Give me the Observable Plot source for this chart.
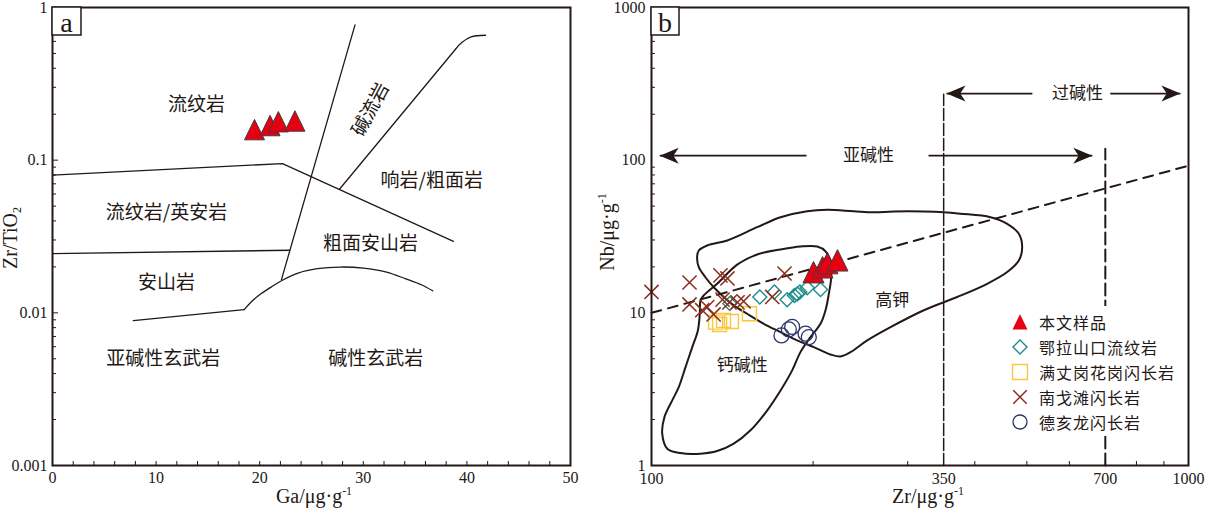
<!DOCTYPE html>
<html><head><meta charset="utf-8">
<script src="https://cdn.jsdelivr.net/npm/d3@7"></script>
<script src="https://cdn.jsdelivr.net/npm/@observablehq/plot@0.6"></script>
<style>
body{margin:0;background:#fff;}
#wrap{display:flex;width:1209px;height:514px;overflow:hidden;}
#wrap svg{display:block;}
</style></head><body><div id="wrap"></div>
<script>
const INK = "#231815";
const RED = "#e60012";
const SERIF = "'Liberation Serif','Times New Roman','DejaVu Serif',serif";
const CJK = "'Noto Sans CJK SC','Noto Sans',sans-serif";

// ---------- Panel a data (Ga vs Zr/TiO2) ----------
const aUpper = [[0,0.0797],[22.2,0.095],[38.7,0.0294]];
const aMiddle = [[0,0.0244],[22.9,0.0257]];
const aSteep = [[22.1,0.0165],[29.2,0.77]];
const aLowerStraight = [[7.8,0.0089],[18.5,0.0105]];
const aLowerArc = [[18.5,0.0105],[19.06,0.01157],[19.99,0.01313],[21.1,0.01474],[22.1,0.01622],[23.7,0.0182],[25.56,0.01945],[27.79,0.01995],[30.0,0.01964],[32.24,0.01849],[34.1,0.0167],[35.6,0.01527],[36.7,0.01394]];
const aRightStraight = [[27.7,0.0645],[38.9,0.533]];
const aRightArc = [[38.9,0.533],[39.5,0.589],[40.4,0.642],[41.8,0.658]];
const aSamples = [[19.5,0.158],[21.0,0.168],[21.8,0.178],[23.4,0.180]];
const aFieldNames = ["流纹岩","碱流岩","响岩/粗面岩","流纹岩/英安岩","粗面安山岩","安山岩","亚碱性玄武岩","碱性玄武岩"];
const aFieldX = [13.9,30.7,36.6,11.0,30.7,11.0,10.7,31.2];
const aFieldY = [0.23,0.215,0.0728,0.0451,0.0282,0.0157,0.00496,0.00496];
const aFieldRot = [0,-62,0,0,0,0,0,0];
const aXLabels = [0,10,20,30,40,50];
const aXMinor = [0,2,4,6,8,10,12,14,16,18,20,22,24,26,28,30,32,34,36,38,40,42,44,46,48,50];
const aYLabels = [0.001,0.01,0.1,1];
const aYMinor = [0.002,0.003,0.004,0.005,0.006,0.007,0.008,0.009,0.02,0.03,0.04,0.05,0.06,0.07,0.08,0.09,0.2,0.3,0.4,0.5,0.6,0.7,0.8,0.9];

// ---------- Panel b data (Zr vs Nb) ----------
const highK = [[122.5,25.6],[127.0,27.6],[138.4,29.8],[157.3,36.4],[173.9,42.3],[194.9,46.3],[212.4,47.3],[238.1,46.3],[259.4,45.6],[282.6,46.1],[321.5,46.1],[350.3,45.6],[376.2,44.6],[427.8,42.3],[459.6,38.3],[483.1,33.0],[490.1,26.9],[483.1,22.0],[459.6,18.5],[421.8,15.5],[370.9,12.7],[321.5,10.4],[278.7,8.06],[252.2,6.60],[234.8,5.53],[224.9,5.18],[215.4,5.34],[200.6,5.96],[186.7,6.60],[173.9,7.47],[161.9,8.48],[150.7,9.86],[142.3,11.2],[136.3,12.7],[130.6,14.7],[126.0,17.1],[122.5,19.9],[121.6,23.2]];
const calcAlk = [[144.4,20.7],[157.3,24.1],[173.9,26.0],[189.4,27.2],[203.5,27.2],[210.9,25.3],[215.4,21.0],[216.1,17.1],[213.9,13.3],[210.9,10.4],[206.4,8.48],[197.7,6.93],[189.4,5.53],[182.8,4.20],[173.9,3.10],[164.3,2.30],[152.9,1.70],[142.3,1.39],[132.5,1.243],[123.4,1.195],[113.2,1.206],[107.0,1.288],[104.7,1.616],[105.7,2.075],[109.3,2.67],[112.4,3.26],[115.7,4.41],[119.1,5.96],[122.0,7.67],[123.0,9.86],[123.4,12.06],[125.1,13.0],[132.5,15.5]];
const alkLine = [[100,10],[1000,92]];
const v350 = [[350,1],[350,270]];
const v700 = [[700,1],[700,119]];
const arrowShafts = [
  {x1:103.6,x2:194.4,y:107},{x1:328,x2:662,y:107},
  {x1:354.3,x2:512,y:273},{x1:715,x2:966,y:273}
];
const arrowTips = [{x:103.6,y:107,r:180},{x:662,y:107,r:0},{x:354.3,y:273,r:180},{x:966,y:273,r:0}];
const bSamples = [[200.3,18.4],[208.2,19.8],[212.7,21.1],[222.0,22.0]];
const elashankou = [[139.9,11.5],[159.1,12.7],[169.4,13.7],[178.9,12.2],[184.6,13.0],[186.8,13.3],[188.9,13.7],[195.0,14.6],[206.4,14.2]];
const manzhang = [[131.6,8.69],[133.9,8.39],[136.2,8.92],[140.9,8.78],[152.2,9.86]];
const nangetan = [[100,13.7],[117.7,15.8],[117.7,11.35],[134.4,17.6],[138.5,16.8],[135.6,12.2],[139.7,11.7],[144.6,11.7],[148.4,11.9],[127.0,10.9],[124.3,10.4],[130.5,9.76],[176.9,18.1],[167.8,12.7]];
const dehailong = [[174.6,7.11],[180.2,7.79],[182.8,8.08],[193.6,7.30],[196.3,6.93]];
const bFieldNames = ["高钾","钙碱性","亚碱性","过碱性"];
const bFieldX = [280.7,147.5,253.5,621];
const bFieldY = [12.06,4.52,107,273];
const bXLabels = [100,350,700,1000];
const bXMinor = [200,300,400,500,600,700,800,900];
const bYLabels = [1,10,100,1000];
const bYMinor = [2,3,4,5,6,7,8,9,20,30,40,50,60,70,80,90,200,300,400,500,600,700,800,900];
const legendNames = ["本文样品","鄂拉山口流纹岩","满丈岗花岗闪长岩","南戈滩闪长岩","德亥龙闪长岩"];

// ---------- symbols ----------
const tallTri = {draw(ctx, size){const s=Math.sqrt(size);ctx.moveTo(0,-0.52*s);ctx.lineTo(0.5*s,0.5*s);ctx.lineTo(-0.5*s,0.5*s);ctx.closePath();}};
const arrowHead = {draw(ctx, size){const L=Math.sqrt(size);ctx.moveTo(0,0);ctx.lineTo(-L,-0.42*L);ctx.lineTo(-0.72*L,0);ctx.lineTo(-L,0.42*L);ctx.closePath();}};
const rFor = s => Math.sqrt(s*s/Math.PI);

const fx = d=>d[0], fy = d=>d[1];
const H = 514, MT = 7, MB = 49;

function table(names, xs, ys, rs){return names.map((t,i)=>({t, x:xs[i], y:ys[i], r: rs? rs[i]:0}));}

// ---------- Panel a ----------
const plotA = Plot.plot({
  width: 600, height: H, marginLeft: 52, marginRight: 30, marginTop: MT, marginBottom: MB,
  x: {domain: [0,50], label: null},
  y: {type: "log", domain: [0.001,1], label: null},
  style: {fontFamily: SERIF, fontSize: "16px", color: INK, background: "white", overflow: "visible"},
  marks: [
    Plot.line(aUpper, {x: fx, y: fy, stroke: INK, strokeWidth: 1.3}),
    Plot.line(aMiddle, {x: fx, y: fy, stroke: INK, strokeWidth: 1.3}),
    Plot.line(aSteep, {x: fx, y: fy, stroke: INK, strokeWidth: 1.3}),
    Plot.line(aLowerStraight, {x: fx, y: fy, stroke: INK, strokeWidth: 1.3}),
    Plot.line(aLowerArc, {x: fx, y: fy, stroke: INK, strokeWidth: 1.3, curve: "catmull-rom"}),
    Plot.line(aRightStraight, {x: fx, y: fy, stroke: INK, strokeWidth: 1.3}),
    Plot.line(aRightArc, {x: fx, y: fy, stroke: INK, strokeWidth: 1.3, curve: "catmull-rom"}),
    Plot.text(table(aFieldNames, aFieldX, aFieldY, aFieldRot), {x: "x", y: "y", text: "t", rotate: "r", fontFamily: CJK, fontSize: 19, fill: INK, letterSpacing: "1px"}),
    Plot.dot(aSamples, {x: fx, y: fy, symbol: tallTri, r: rFor(20), fill: RED, stroke: "#3d3d3d", strokeWidth: 1}),
    Plot.tickX(aXMinor, {x: d=>d, insetTop: 458-4, stroke: INK, strokeWidth: 1}),
    Plot.tickY(aYMinor, {y: d=>d, insetRight: 518-4, stroke: INK, strokeWidth: 1}),
    Plot.tickY(aYLabels, {y: d=>d, insetRight: 518-6, stroke: INK, strokeWidth: 1}),
    Plot.axisX({ticks: aXLabels, tickSize: 0, tickPadding: 6, tickFormat: d=>String(d), label: null}),
    Plot.axisY({ticks: aYLabels, tickSize: 0, tickPadding: 5, tickFormat: d=>String(d), label: null}),
    Plot.frame({stroke: INK, strokeWidth: 2})
  ]
});

// ---------- Panel b ----------
const plotB = Plot.plot({
  width: 609, height: H, marginLeft: 51, marginRight: 21, marginTop: MT, marginBottom: MB,
  x: {type: "log", domain: [100,1000], label: null},
  y: {type: "log", domain: [1,1000], label: null},
  style: {fontFamily: SERIF, fontSize: "16px", color: INK, background: "white", overflow: "visible"},
  marks: [
    Plot.line(highK, {x: fx, y: fy, stroke: INK, strokeWidth: 2, curve: "catmull-rom-closed"}),
    Plot.line(calcAlk, {x: fx, y: fy, stroke: INK, strokeWidth: 2, curve: "catmull-rom-closed"}),
    Plot.line(alkLine, {x: fx, y: fy, stroke: INK, strokeWidth: 2, strokeDasharray: "10,7"}),
    Plot.line(v350, {x: fx, y: fy, stroke: INK, strokeWidth: 1.5, strokeDasharray: "12,3"}),
    Plot.line(v700, {x: fx, y: fy, stroke: INK, strokeWidth: 2, strokeDasharray: "12,5"}),
    Plot.link(arrowShafts, {x1: "x1", x2: "x2", y1: "y", y2: "y", stroke: INK, strokeWidth: 1.8}),
    Plot.dot(arrowTips, {x: "x", y: "y", rotate: "r", symbol: arrowHead, r: rFor(19), fill: INK, stroke: "none"}),
    Plot.text(table(bFieldNames, bFieldX, bFieldY), {x: "x", y: "y", text: "t", fontFamily: CJK, fontSize: 17, fill: INK, letterSpacing: "1px"}),
    Plot.dot(manzhang, {x: fx, y: fy, symbol: "square", r: rFor(14), fill: "none", stroke: "#f8c63f", strokeWidth: 1.4}),
    Plot.dot(elashankou, {x: fx, y: fy, symbol: "diamond2", r: rFor(14/(2*0.62625)), fill: "none", stroke: "#1f8c8c", strokeWidth: 1.4}),
    Plot.dot(dehailong, {x: fx, y: fy, symbol: "circle", r: 7.5, fill: "none", stroke: "#2b3566", strokeWidth: 1.3}),
    Plot.dot(nangetan, {x: fx, y: fy, symbol: "times", r: 6.5, fill: "none", stroke: "#8b2d1c", strokeWidth: 1.5}),
    Plot.dot(bSamples, {x: fx, y: fy, symbol: tallTri, r: rFor(21), fill: RED, stroke: "#3d3d3d", strokeWidth: 1}),
    Plot.tickX(bXMinor, {x: d=>d, insetTop: 458-4, stroke: INK, strokeWidth: 1}),
    Plot.tickY(bYMinor, {y: d=>d, insetRight: 537-4, stroke: INK, strokeWidth: 1}),
    Plot.axisX({ticks: bXLabels, tickSize: 0, tickPadding: 7, tickFormat: d=>String(d), label: null}),
    Plot.axisY({ticks: bYLabels, tickSize: 0, tickPadding: 6, tickFormat: d=>String(d), label: null}),
    Plot.frame({stroke: INK, strokeWidth: 2})
  ]
});

// ---------- decorations ----------
function title(svg, x, y, rot, main, small, shift){
  const t = svg.append("text").attr("transform", `translate(${x},${y}) rotate(${rot})`)
    .attr("text-anchor","middle").attr("font-family",SERIF).attr("font-size",20).attr("fill",INK);
  t.append("tspan").text(main);
  t.append("tspan").attr("font-size",12).attr("dy",shift).text(small);
}
function panelTag(svg, x, y, w, h, label){
  svg.append("rect").attr("x",x).attr("y",y).attr("width",w).attr("height",h)
    .attr("fill","white").attr("stroke",INK).attr("stroke-width",1.5);
  svg.append("text").attr("x",x+w/2).attr("y",y+h/2+1).attr("text-anchor","middle")
    .attr("dominant-baseline","central").attr("font-family",SERIF).attr("font-size",28).attr("fill",INK).text(label);
}
const sa = d3.select(plotA), sb = d3.select(plotB);
title(sa, 314, 503, 0, "Ga/μg·g", "-1", -8);
title(sa, 17, 238, -90, "Zr/TiO", "2", 4);
title(sb, 328, 503, 0, "Zr/μg·g", "-1", -8);
title(sb, 14, 232, -90, "Nb/μg·g", "-1", -8);
panelTag(sa, 52, 7, 29, 28, "a");
panelTag(sb, 51, 7, 28, 28, "b");

// legend (panel b) with white backing that interrupts the 700 line
const legSyms = [
  {type: tallTri, size: 15*15, fill: RED, stroke: "none", sw: 0},
  {type: d3.symbolDiamond2, size: Math.pow(14/(2*0.62625),2), fill: "none", stroke: "#1f8c8c", sw: 1.4},
  {type: d3.symbolSquare, size: 15*15, fill: "none", stroke: "#f8c63f", sw: 1.4},
  {type: d3.symbolTimes, size: 120, fill: "none", stroke: "#8b2d1c", sw: 1.5},
  {type: d3.symbolCircle, size: Math.PI*7*7, fill: "none", stroke: "#2b3566", sw: 1.3}
];
const lg = sb.append("g").attr("text-anchor","start");
lg.append("rect").attr("x",408).attr("y",306).attr("width",174).attr("height",130).attr("fill","white");
legendNames.forEach((name,i)=>{
  const y = 322 + i*25;
  const s = legSyms[i];
  lg.append("path").attr("transform",`translate(420,${y})`).attr("d", d3.symbol(s.type, s.size)())
    .attr("fill", s.fill).attr("stroke", s.stroke).attr("stroke-width", s.sw);
  lg.append("text").attr("x",439).attr("y",y).attr("text-anchor","start").attr("dominant-baseline","central")
    .attr("font-family",CJK).attr("font-size",16).attr("letter-spacing","1px").attr("fill",INK).text(name);
});

document.getElementById("wrap").append(plotA, plotB);
</script></body></html>
